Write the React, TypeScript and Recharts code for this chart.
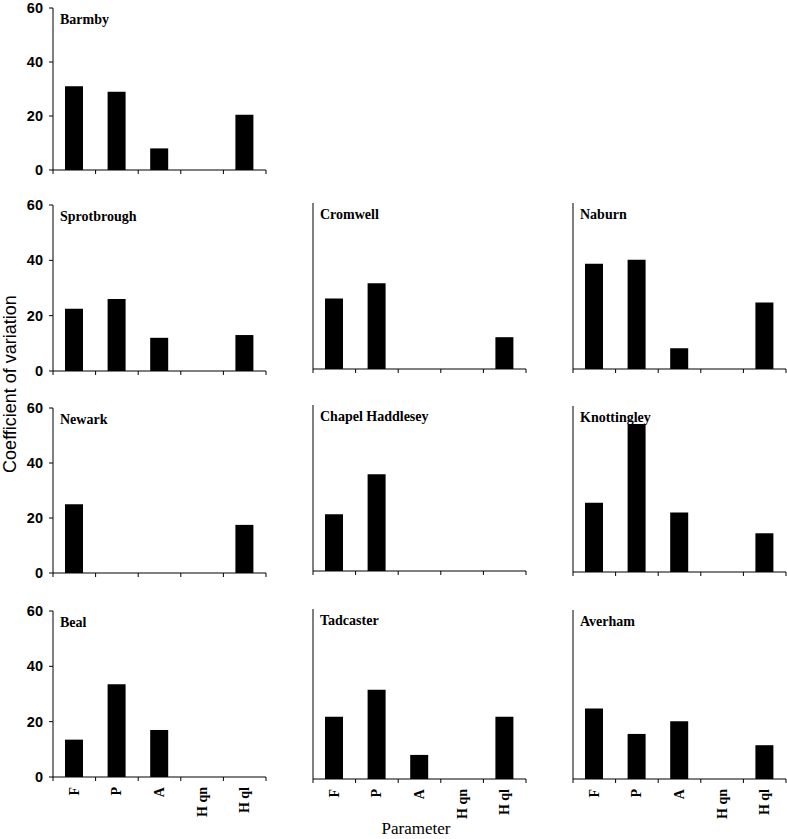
import { Bar, BarChart, XAxis, YAxis } from "recharts";

const categories = ["F", "P", "A", "H qn", "H ql"];
const yTicks = [0, 20, 40, 60];

const barmby = [31, 29, 8, 0, 20.5];
const sprotbrough = [22.5, 26, 12, 0, 13];
const cromwell = [25.5, 31, 0, 0, 11.5];
const naburn = [38, 39.5, 7.5, 0, 24];
const newark = [25, 0, 0, 0, 17.5];
const chapelHaddlesey = [20.5, 35, 0, 0, 0];
const knottingley = [25, 53.5, 21.5, 0, 14];
const beal = [13.5, 33.5, 17, 0, 0];
const tadcaster = [22, 31.5, 8.5, 0, 22];
const averham = [25, 16, 20.5, 0, 12];

const siteNames = [
  "Barmby",
  "Sprotbrough",
  "Cromwell",
  "Naburn",
  "Newark",
  "Chapel Haddlesey",
  "Knottingley",
  "Beal",
  "Tadcaster",
  "Averham",
];
const siteValues = [
  barmby,
  sprotbrough,
  cromwell,
  naburn,
  newark,
  chapelHaddlesey,
  knottingley,
  beal,
  tadcaster,
  averham,
];

// plot box of each panel: left edge of y axis, y of the 60 line, plot height
const panelBoxes = [
  { left: 53, top: 8, h: 162, yLabels: true, xLabels: false },
  { left: 53, top: 205, h: 166, yLabels: true, xLabels: false },
  { left: 313, top: 203, h: 166, yLabels: false, xLabels: false },
  { left: 573, top: 203, h: 166, yLabels: false, xLabels: false },
  { left: 53, top: 408, h: 165, yLabels: true, xLabels: false },
  { left: 313, top: 405, h: 166, yLabels: false, xLabels: false },
  { left: 573, top: 406, h: 166, yLabels: false, xLabels: false },
  { left: 53, top: 611, h: 166, yLabels: true, xLabels: true },
  { left: 313, top: 609, h: 170, yLabels: false, xLabels: true },
  { left: 573, top: 610, h: 169, yLabels: false, xLabels: true },
];

const PLOT_W = 213;
const AXIS_W = 53;
const TOP_PAD = 14;
const TICK_SIZE = 4;
const TICK_GAP = 6;
const serif = "'Liberation Serif', 'Times New Roman', serif";
const sans = "'Liberation Sans', Arial, sans-serif";

function CategoryTick(props: any) {
  const { x, y, payload, index, visibleTicksCount, showLabel } = props;
  const half = payload && typeof payload.offset === "number" ? payload.offset : PLOT_W / 10;
  const axisY = y - TICK_SIZE - TICK_GAP;
  const isLast = index === visibleTicksCount - 1;
  return (
    <g>
      <line x1={x - half} x2={x - half} y1={axisY} y2={axisY + TICK_SIZE} stroke="#000" />
      {isLast && (
        <line x1={x + half} x2={x + half} y1={axisY} y2={axisY + TICK_SIZE} stroke="#000" />
      )}
      {showLabel && (
        <text
          x={x}
          y={y}
          transform={`rotate(-90, ${x}, ${y})`}
          textAnchor="end"
          dominantBaseline="central"
          fontFamily={serif}
          fontWeight="bold"
          fontSize={14}
          fill="#000"
        >
          {payload.value}
        </text>
      )}
    </g>
  );
}

type PanelProps = {
  name: string;
  values: number[];
  box: (typeof panelBoxes)[number];
};

function Panel({ name, values, box }: PanelProps) {
  const data = categories.map((cat, i) => ({ cat, value: values[i] }));
  const xAxisH = box.xLabels ? 50 : 12;
  const width = AXIS_W + PLOT_W + 6;
  const height = TOP_PAD + box.h + xAxisH;

  return (
    <>
      <div style={{ position: "absolute", left: box.left - AXIS_W, top: box.top - TOP_PAD }}>
        <BarChart
          width={width}
          height={height}
          data={data}
          margin={{ top: TOP_PAD, right: 6, left: 0, bottom: 0 }}
          barCategoryGap={0}
        >
          <XAxis
            dataKey="cat"
            type="category"
            interval={0}
            height={xAxisH}
            tickSize={TICK_SIZE}
            tickMargin={TICK_GAP}
            tickLine={false}
            axisLine={{ stroke: "#000" }}
            tick={(p: any) => <CategoryTick {...p} showLabel={box.xLabels} />}
          />
          <YAxis
            type="number"
            domain={[0, 60]}
            ticks={yTicks}
            interval={0}
            width={AXIS_W}
            tickSize={TICK_SIZE}
            tickMargin={TICK_GAP}
            axisLine={{ stroke: "#000" }}
            tickLine={{ stroke: "#000" }}
            tick={
              box.yLabels
                ? { fill: "#000", fontFamily: sans, fontSize: 14.5, fontWeight: "bold" }
                : false
            }
          />
          <Bar dataKey="value" fill="#000" barSize={18} isAnimationActive={false} />
        </BarChart>
      </div>
      <div
        style={{
          position: "absolute",
          left: box.left + 7,
          top: box.top + 5,
          fontFamily: serif,
          fontWeight: "bold",
          fontSize: 14,
          lineHeight: "14px",
          whiteSpace: "nowrap",
          color: "#000",
        }}
      >
        {name}
      </div>
    </>
  );
}

export default function App() {
  return (
    <div
      style={{
        position: "absolute",
        left: 0,
        top: 0,
        width: 787,
        height: 839,
        background: "#fff",
        overflow: "hidden",
      }}
    >
      {siteNames.map((name, i) => (
        <Panel key={name} name={name} values={siteValues[i]} box={panelBoxes[i]} />
      ))}
      <div
        style={{
          position: "absolute",
          left: 10,
          top: 384,
          transform: "translate(-50%, -50%) rotate(-90deg)",
          whiteSpace: "nowrap",
          fontFamily: sans,
          fontSize: 18,
          lineHeight: "20px",
          color: "#000",
        }}
      >
        Coefficient of variation
      </div>
      <div
        style={{
          position: "absolute",
          left: 416,
          top: 820,
          transform: "translateX(-50%)",
          whiteSpace: "nowrap",
          fontFamily: serif,
          fontSize: 17,
          lineHeight: "17px",
          color: "#000",
        }}
      >
        Parameter
      </div>
    </div>
  );
}
